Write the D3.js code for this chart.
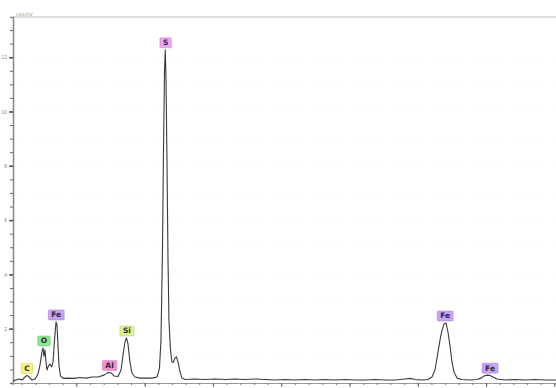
<!DOCTYPE html>
<html>
<head>
<meta charset="utf-8">
<script src="https://cdn.jsdelivr.net/npm/d3@7"></script>
<style>
  body { margin: 0; background: #fff; }
  svg { display: block; font-family: "DejaVu Sans", Arial, sans-serif; }
</style>
</head>
<body>
<div id="chart"></div>
<script>
// spectrum, energy in keV and counts in cps/eV
var energy = [0.072, 0.116, 0.160, 0.204, 0.248, 0.277, 0.306, 0.350, 0.394, 0.438,
  0.467, 0.496, 0.511, 0.526, 0.540, 0.555, 0.570, 0.592, 0.614, 0.636,
  0.658, 0.680, 0.702, 0.716, 0.731, 0.745, 0.767, 0.804, 0.877, 0.965,
  1.053, 1.141, 1.229, 1.317, 1.405, 1.463, 1.507, 1.551, 1.610, 1.654,
  1.683, 1.712, 1.734, 1.756, 1.785, 1.814, 1.858, 1.932, 2.020, 2.107,
  2.181, 2.217, 2.239, 2.261, 2.276, 2.291, 2.302, 2.313, 2.327, 2.342,
  2.356, 2.378, 2.400, 2.422, 2.444, 2.466, 2.488, 2.518, 2.547, 2.591,
  2.737, 2.884, 3.030, 3.177, 3.323, 3.470, 3.616, 3.762, 3.909, 4.055,
  4.202, 4.348, 4.495, 4.641, 4.788, 4.934, 5.081, 5.227, 5.374, 5.520,
  5.667, 5.813, 5.886, 5.959, 6.062, 6.150, 6.208, 6.252, 6.289, 6.325,
  6.355, 6.384, 6.413, 6.442, 6.472, 6.501, 6.530, 6.574, 6.648, 6.765,
  6.867, 6.926, 6.970, 7.014, 7.058, 7.102, 7.160, 7.277, 7.424, 7.570,
  7.717, 7.863, 8.024];
var counts = [0.07, 0.11, 0.15, 0.11, 0.22, 0.28, 0.22, 0.11, 0.15, 0.33,
  0.66, 1.14, 1.29, 0.99, 1.22, 0.77, 0.48, 0.63, 0.70, 0.59,
  0.77, 1.58, 2.25, 2.14, 1.40, 0.66, 0.26, 0.17, 0.18, 0.17,
  0.20, 0.18, 0.22, 0.22, 0.29, 0.39, 0.37, 0.26, 0.24, 0.48,
  1.03, 1.51, 1.66, 1.44, 0.77, 0.37, 0.22, 0.18, 0.18, 0.18,
  0.22, 0.55, 1.58, 4.90, 8.58, 11.53, 12.27, 11.16, 8.20, 4.53,
  2.32, 1.22, 0.77, 0.77, 0.92, 0.96, 0.77, 0.41, 0.18, 0.13,
  0.15, 0.13, 0.15, 0.13, 0.15, 0.13, 0.15, 0.13, 0.11, 0.13,
  0.11, 0.13, 0.11, 0.13, 0.11, 0.13, 0.11, 0.11, 0.13, 0.11,
  0.11, 0.15, 0.17, 0.13, 0.11, 0.13, 0.22, 0.48, 1.03, 1.58,
  1.95, 2.17, 2.21, 1.88, 1.36, 0.77, 0.41, 0.18, 0.13, 0.11,
  0.13, 0.18, 0.26, 0.29, 0.28, 0.22, 0.15, 0.11, 0.13, 0.11,
  0.13, 0.11, 0.11];

// element markers
var peakNames = ["C", "O", "Fe", "Al", "Si", "S", "Fe", "Fe"];
var peakEnergy = [0.277, 0.525, 0.705, 1.486, 1.740, 2.307, 6.400, 7.058];
var peakColors = ["#f6f27c", "#8ee68e", "#c8a2f2", "#f291cf", "#dcf28a", "#eca3f2", "#c8a2f2", "#c8a2f2"];

var yTickLabels = [2, 4, 6, 8, 10, 12];
var yUnit = "cps/eV";

var width = 556, height = 388;
var margin = {left: 13, right: 0, top: 17, bottom: 5};

var x = d3.scaleLinear().domain([0.072, 8.024]).range([margin.left, width - margin.right]);
var y = d3.scaleLinear().domain([0, 13.48]).range([height - margin.bottom, margin.top]);

var svg = d3.select("#chart").append("svg")
    .attr("width", width)
    .attr("height", height);

// faint dotted grid
svg.append("g").selectAll("line").data(d3.range(1, 13, 1)).enter().append("line")
    .attr("x1", margin.left).attr("x2", width)
    .attr("y1", function (d) { return y(d); }).attr("y2", function (d) { return y(d); })
    .attr("stroke", "#ececec").attr("stroke-dasharray", "1,9");

// frame lines
svg.append("line")
    .attr("x1", margin.left).attr("y1", margin.top)
    .attr("x2", width).attr("y2", margin.top)
    .attr("stroke", "#bdbdbd").attr("stroke-width", 1.2);

// y axis, minor then labelled ticks
var yMinor = svg.append("g")
    .attr("transform", "translate(" + margin.left + ",0)")
    .call(d3.axisLeft(y).tickValues(d3.range(0, 13.5, 0.5)).tickSize(3).tickFormat(""));
yMinor.select(".domain").attr("stroke", "#8c8c8c").attr("stroke-width", 1.6);
yMinor.selectAll(".tick line").attr("stroke", "#666");

var yMajor = svg.append("g")
    .attr("transform", "translate(" + margin.left + ",0)")
    .call(d3.axisLeft(y).tickValues(yTickLabels).tickSize(4).tickPadding(2));
yMajor.select(".domain").remove();
yMajor.selectAll(".tick line").attr("stroke", "#555").attr("stroke-width", 1.5);
yMajor.selectAll(".tick text").attr("font-size", 5).attr("fill", "#888");

svg.append("text")
    .attr("x", margin.left + 3).attr("y", margin.top - 1)
    .attr("font-size", 5).attr("fill", "#999")
    .text(yUnit);

// x axis
var xMinor = svg.append("g")
    .attr("transform", "translate(0," + y(0) + ")")
    .call(d3.axisBottom(x).tickValues(d3.range(0.2, 8.01, 0.2)).tickSize(2).tickFormat(""));
xMinor.select(".domain").attr("stroke", "#999").attr("stroke-width", 1.2);
xMinor.selectAll(".tick line").attr("stroke", "#777");

var xMajor = svg.append("g")
    .attr("transform", "translate(0," + y(0) + ")")
    .call(d3.axisBottom(x).tickValues(d3.range(1, 9, 1)).tickSize(4).tickFormat(""));
xMajor.select(".domain").remove();
xMajor.selectAll(".tick line").attr("stroke", "#666");

// spectrum trace
var points = energy.map(function (e, i) { return [e, counts[i]]; });
var line = d3.line()
    .x(function (d) { return x(d[0]); })
    .y(function (d) { return y(d[1]); });
svg.append("path")
    .datum(points)
    .attr("d", line)
    .attr("fill", "none")
    .attr("stroke", "#3a3a3a")
    .attr("stroke-width", 1.1)
    .attr("stroke-linejoin", "round");

// peak labels, box sits just above the local maximum
peakNames.forEach(function (name, i) {
    var e = peakEnergy[i];
    var top = d3.max(points.filter(function (p) { return Math.abs(p[0] - e) < 0.05; }), function (p) { return p[1]; });
    var cx = x(e);
    var bottom = y(top) - 2;
    var g = svg.append("g");
    var rect = g.append("rect");
    var txt = g.append("text")
        .attr("x", cx).attr("y", bottom - 2.5)
        .attr("text-anchor", "middle")
        .attr("font-size", 7.5).attr("font-weight", "bold")
        .attr("fill", "#2b2440")
        .text(name);
    var w = txt.node().getComputedTextLength() + 6;
    rect.attr("x", cx - w / 2).attr("y", bottom - 10)
        .attr("width", w).attr("height", 10)
        .attr("rx", 1)
        .attr("fill", peakColors[i])
        .attr("stroke", d3.color(peakColors[i]).darker(0.4))
        .attr("stroke-width", 0.6);
});
</script>
</body>
</html>
